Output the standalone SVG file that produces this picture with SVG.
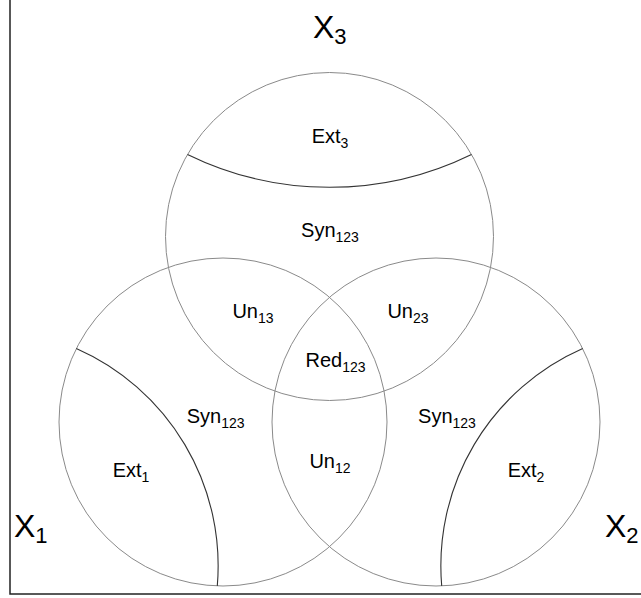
<svg xmlns="http://www.w3.org/2000/svg" width="641" height="598" viewBox="0 0 641 598">
  <style>
    .set { fill: none; stroke: #8a8a8a; stroke-width: 1; }
    .div { fill: none; stroke: #333333; stroke-width: 1.1; }
    .frame { fill: none; stroke: #222222; stroke-width: 1.5; }
    .lbl { font-family: "Liberation Sans", Arial, sans-serif; font-size: 20px; fill: #000; text-anchor: middle; }
    .sub { font-size: 14px; }
    .big { font-family: "Liberation Sans", Arial, sans-serif; font-size: 32px; fill: #000; }
    .bigsub { font-size: 22px; }
  </style>
  <rect class="frame" x="10" y="-10" width="650" height="604"/>
  <g id="set-X1">
    <circle class="set" cx="223" cy="422" r="164"/>
    <text class="big" x="14" y="537">X<tspan class="bigsub" dy="6">1</tspan></text>
  </g>
  <g id="set-X2">
    <circle class="set" cx="436" cy="422" r="164"/>
    <text class="big" x="605" y="537">X<tspan class="bigsub" dy="6">2</tspan></text>
  </g>
  <g id="set-X3">
    <circle class="set" cx="329.5" cy="236.5" r="164"/>
    <text class="big" x="313" y="38">X<tspan class="bigsub" dy="6">3</tspan></text>
  </g>
  <g id="connectors">
    <path class="div" d="M76.3,348.5 A237.5,237.5 0 0 1 217.3,585.9"/>
    <path class="div" d="M582.7,348.5 A237.5,237.5 0 0 0 441.7,585.9"/>
    <path class="div" d="M187.5,154.4 A322.9,322.9 0 0 0 471.5,154.4"/>
  </g>
  <g id="region-Ext3"><text class="lbl" x="330" y="143.3">Ext<tspan class="sub" dy="5">3</tspan></text></g>
  <g id="region-Syn123-top"><text class="lbl" x="330" y="237">Syn<tspan class="sub" dy="5">123</tspan></text></g>
  <g id="region-Un13"><text class="lbl" x="253" y="318">Un<tspan class="sub" dy="5">13</tspan></text></g>
  <g id="region-Un23"><text class="lbl" x="408" y="318">Un<tspan class="sub" dy="5">23</tspan></text></g>
  <g id="region-Red123"><text class="lbl" x="335.5" y="367.3">Red<tspan class="sub" dy="5">123</tspan></text></g>
  <g id="region-Syn123-left"><text class="lbl" x="215.7" y="423.3">Syn<tspan class="sub" dy="5">123</tspan></text></g>
  <g id="region-Syn123-right"><text class="lbl" x="447" y="423.3">Syn<tspan class="sub" dy="5">123</tspan></text></g>
  <g id="region-Un12"><text class="lbl" x="330" y="468">Un<tspan class="sub" dy="5">12</tspan></text></g>
  <g id="region-Ext1"><text class="lbl" x="131" y="477.3">Ext<tspan class="sub" dy="5">1</tspan></text></g>
  <g id="region-Ext2"><text class="lbl" x="526" y="477.3">Ext<tspan class="sub" dy="5">2</tspan></text></g>
</svg>
